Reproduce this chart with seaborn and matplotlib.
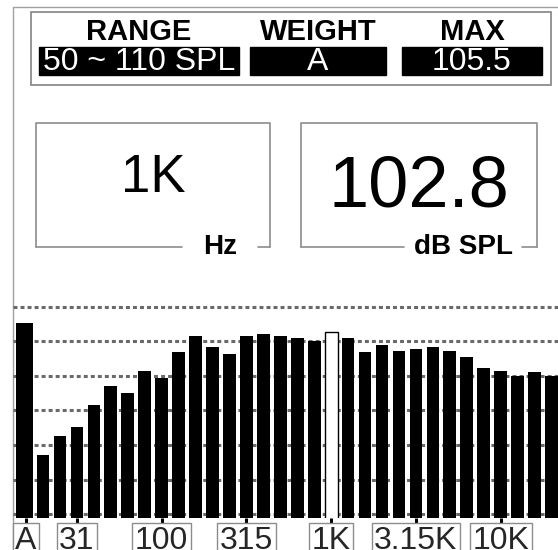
import matplotlib
matplotlib.use("Agg")
import matplotlib.pyplot as plt
import seaborn as sns
import pandas as pd
from matplotlib.patches import Rectangle

# Data
bands = ["A", "20", "25", "31.5", "40", "50", "63", "80", "100", "125", "160",
         "200", "250", "315", "400", "500", "630", "800", "1K", "1.25K", "1.6K",
         "2K", "2.5K", "3.15K", "4K", "5K", "6.3K", "8K", "10K", "12.5K", "16K", "20K"]
levels = [105.4, 67.1, 72.6, 75.2, 81.6, 87.1, 85.1, 91.4, 89.4, 97.0, 101.6,
          98.4, 96.4, 101.6, 102.2, 101.6, 101.0, 100.1, 102.8, 101.0, 97.0,
          99.0, 97.2, 97.8, 98.4, 97.2, 95.5, 92.3, 91.4, 90.0, 91.2, 90.0]
tick_bands = ["A", "31.5", "100", "315", "1K", "3.15K", "10K"]
tick_labels = ["A", "31", "100", "315", "1K", "3.15K", "10K"]
grid_levels = [50, 60, 70, 80, 90, 100, 110]
selected_band = "1K"

header_labels = ["RANGE", "WEIGHT", "MAX"]
header_values = ["50 ~ 110 SPL", "A", "105.5"]
freq_text = "1K"
freq_unit = "Hz"
level_text = "102.8"
level_unit = "dB SPL"

sns.set_theme(style="white")
plt.rcParams["font.family"] = ["Liberation Sans", "DejaVu Sans"]

W, H = 558, 550
fig = plt.figure(figsize=(W / 100, H / 100), dpi=100)
fig.patch.set_facecolor("white")

# overlay axes in pixel units for the display furniture
ov = fig.add_axes([0, 0, 1, 1])
ov.set_xlim(0, W)
ov.set_ylim(H, 0)
ov.axis("off")

frame_col = "#8c8c8c"
ov.plot([13, 13], [7, H], color="#a0a0a0", lw=1)
ov.plot([13, W], [7, 7], color="#a0a0a0", lw=1)

# header block
ov.add_patch(Rectangle((31, 12), 520, 73, fill=False, ec=frame_col, lw=1.3))
black_boxes = [(39, 239), (250, 386), (402, 542)]
for (x0, x1), lab, val in zip(black_boxes, header_labels, header_values):
    cx = (x0 + x1) / 2
    ov.text(cx, 32, lab, ha="center", va="center", fontsize=21,
            fontweight="bold", color="black")
    ov.add_patch(Rectangle((x0, 47), x1 - x0, 28, color="black"))
    ov.text(cx, 62, val, ha="center", va="center", fontsize=23, color="white")

# readout boxes
def readout(x0, x1, y0, y1, value, vy, vsize, unit, gap):
    ov.plot([x0, x0, x1, x1], [y1, y0, y0, y1], color=frame_col, lw=1.2)
    ov.plot([x0, gap[0]], [y1, y1], color=frame_col, lw=1.2)
    ov.plot([gap[1], x1], [y1, y1], color=frame_col, lw=1.2)
    ov.text((x0 + x1) / 2, vy, value, ha="center", va="center",
            fontsize=vsize, color="black")
    ov.text((gap[0] + gap[1]) / 2, y1, unit, ha="center", va="center",
            fontsize=20, fontweight="bold", color="black")

readout(36, 270, 123, 247, freq_text, 178, 38, freq_unit, (182, 258))
readout(301, 537, 123, 247, level_text, 188, 52, level_unit, (404, 522))

# spectrum bars
left_px, right_px = 13, W
base_px, top_px = 517.5, 300
ax = fig.add_axes([left_px / W, (H - base_px) / H, (right_px - left_px) / W,
                   (base_px - top_px) / H])
ax.patch.set_alpha(0)

df = pd.DataFrame({"band": bands, "level": levels})
sns.barplot(data=df, x="band", y="level", order=bands, color="black",
            saturation=1, width=0.75, ax=ax, edgecolor="black", linewidth=0)

bars = ax.patches
bars[0].set_x(-0.593)
bars[0].set_width(1.0)
sel = bars[bands.index(selected_band)]
sel.set_facecolor("white")
sel.set_edgecolor("black")
sel.set_linewidth(1.0)

ax.set_xlim(-0.77, 31.38)
ax.set_ylim(49, 112)
ax.set_yticks(grid_levels)
ax.yaxis.grid(True, linestyle=(0, (1.3, 1.0)), color="#6a6a6a", linewidth=2.2)
ax.xaxis.grid(False)
ax.set_axisbelow(True)
ax.tick_params(axis="y", left=False, labelleft=False)
ax.set_xticks([bands.index(b) for b in tick_bands])
ax.set_xticklabels(tick_labels, fontsize=23)
ax.tick_params(axis="x", bottom=True, length=4.5, width=2.2, color="black",
               pad=1.5, direction="out")
for t in ax.get_xticklabels():
    t.set_bbox(dict(boxstyle="square,pad=0.08", fc="white", ec=frame_col, lw=1))
ax.set_xlabel("")
ax.set_ylabel("")
for s in ax.spines.values():
    s.set_visible(False)

fig.savefig("out.png", dpi=100)
